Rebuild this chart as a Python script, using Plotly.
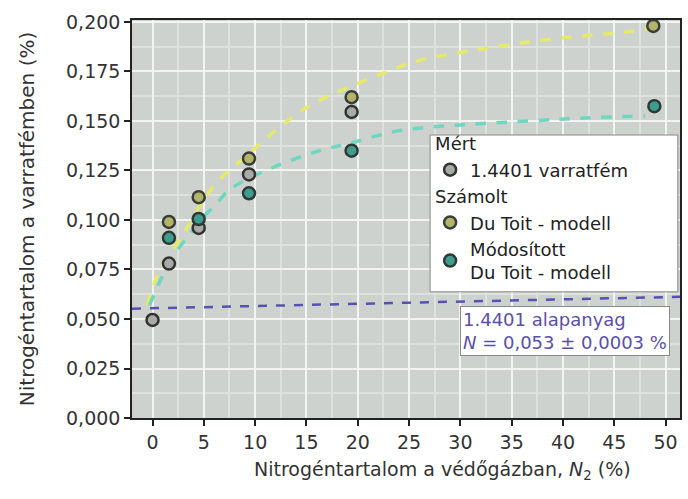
import plotly.graph_objects as go

# Measured points
x_meas = [0, 1.6, 4.5, 9.4, 19.4]
y_meas = [0.0495, 0.078, 0.096, 0.123, 0.1546]
# Du Toit model points
x_dt = [1.6, 4.5, 9.4, 19.4, 48.8]
y_dt = [0.099, 0.1115, 0.131, 0.162, 0.198]
# Modified Du Toit model points
x_mod = [1.6, 4.5, 9.4, 19.4, 48.9]
y_mod = [0.091, 0.1005, 0.1135, 0.135, 0.1575]

# Fitted curves
x_dt_curve = [-0.5, 0.6, 2.5, 3.5, 5.0, 6.6, 9.5, 12.4, 15.3, 19.1, 23.9, 25.9, 33.6, 40, 46.3, 48.6]
y_dt_curve = [0.057, 0.0735, 0.089, 0.097, 0.1105, 0.1207, 0.134, 0.147, 0.1577, 0.167, 0.177, 0.1805, 0.1876, 0.192, 0.195, 0.197]
x_mod_curve = [-0.3, 1.8, 3.5, 4.7, 6.0, 7.6, 9.8, 12.4, 16.3, 19.4, 23.9, 30, 36.7, 42, 48]
y_mod_curve = [0.057, 0.080, 0.092, 0.100, 0.107, 0.1156, 0.122, 0.128, 0.135, 0.139, 0.145, 0.148, 0.150, 0.1515, 0.1526]
x_base = [-2.0, 51.4]
y_base = [0.0552, 0.0612]

FONT = "DejaVu Sans, Liberation Sans, Arial"

fig = go.Figure()
fig.add_trace(go.Scatter(x=x_dt_curve, y=y_dt_curve, mode="lines", line=dict(color="#e6ea6a", width=3.5, dash="dash", shape="spline"), showlegend=False, hoverinfo="skip"))
fig.add_trace(go.Scatter(x=x_mod_curve, y=y_mod_curve, mode="lines", line=dict(color="#6fd6c0", width=3.5, dash="dash", shape="spline"), showlegend=False, hoverinfo="skip"))
fig.add_trace(go.Scatter(x=x_base, y=y_base, mode="lines", line=dict(color="#5a50b0", width=2.5, dash="dash"), showlegend=False, hoverinfo="skip"))

fig.add_trace(go.Scatter(x=x_meas, y=y_meas, mode="markers", name="1.4401 varratfém",
                         marker=dict(size=12, color="#a8aca6", line=dict(color="#333333", width=2.5)),
                         legendgroup="m", legendgrouptitle=dict(text="Mért")))
fig.add_trace(go.Scatter(x=x_dt, y=y_dt, mode="markers", name="Du Toit - modell",
                         marker=dict(size=12, color="#b3b46a", line=dict(color="#3a3d38", width=2.5)),
                         legendgroup="s", legendgrouptitle=dict(text="Számolt")))
fig.add_trace(go.Scatter(x=x_mod, y=y_mod, mode="markers", name="Módosított<br>Du Toit - modell",
                         marker=dict(size=12, color="#3f9c8e", line=dict(color="#2e3a36", width=2.5)),
                         legendgroup="s"))

# legend background box (wider than Plotly's auto legend box)
fig.add_shape(type="rect", xref="paper", yref="paper", x0=0.544, x1=0.996, y0=0.317, y1=0.711,
              fillcolor="white", line=dict(color="#888888", width=1), layer="above")

fig.add_annotation(x=0.599, y=0.219, xref="paper", yref="paper", xanchor="left", yanchor="middle",
                   text="1.4401 alapanyag<br><i>N</i> = 0,053 ± 0,0003 %", showarrow=False, align="left",
                   font=dict(family=FONT, size=18, color="#5a50a8"),
                   bgcolor="white", bordercolor="#888888", borderwidth=1, borderpad=2)

fig.add_annotation(x=0.5675, y=-0.1307, xref="paper", yref="paper", xanchor="center", yanchor="middle",
                   text="Nitrogéntartalom a védőgázban, <i>N</i><sub>2</sub> (%)", showarrow=False,
                   font=dict(family=FONT, size=19, color="#333333"))

axis_common = dict(showline=True, linecolor="#222222", linewidth=1.5, mirror=True, ticks="outside",
                   ticklen=6, tickcolor="#222222", tickwidth=1.5, gridcolor="#f2f4f2", gridwidth=1.5,
                   zeroline=False, automargin=False,
                   tickfont=dict(family=FONT, size=19, color="#333333"))

fig.update_layout(
    width=688, height=499,
    margin=dict(l=132, r=8, t=20, b=81),
    paper_bgcolor="white", plot_bgcolor="#cdd2ce",
    separators=",.",
    font=dict(family=FONT, color="#333333"),
    xaxis=dict(range=[-2.0, 51.4], tick0=0, dtick=5, minor=dict(showgrid=True, gridcolor="#dde2de", dtick=2.5),
               **axis_common),
    yaxis=dict(range=[0, 0.201], tick0=0, dtick=0.025, tickformat=".3f",
               minor=dict(showgrid=True, gridcolor="#dde2de", dtick=0.0125),
               title=dict(text="Nitrogéntartalom a varratfémben (%)", font=dict(family=FONT, size=20, color="#333333"), standoff=26),
               **axis_common),
    legend=dict(x=0.544, y=0.736, xanchor="left", yanchor="top", bgcolor="rgba(0,0,0,0)", borderwidth=0,
                font=dict(family=FONT, size=18, color="#222222"),
                grouptitlefont=dict(family=FONT, size=18, color="#222222"),
                tracegroupgap=0),
)

fig.write_html("out.html", config={"displayModeBar": False}, post_script="document.body.style.margin='0';")
